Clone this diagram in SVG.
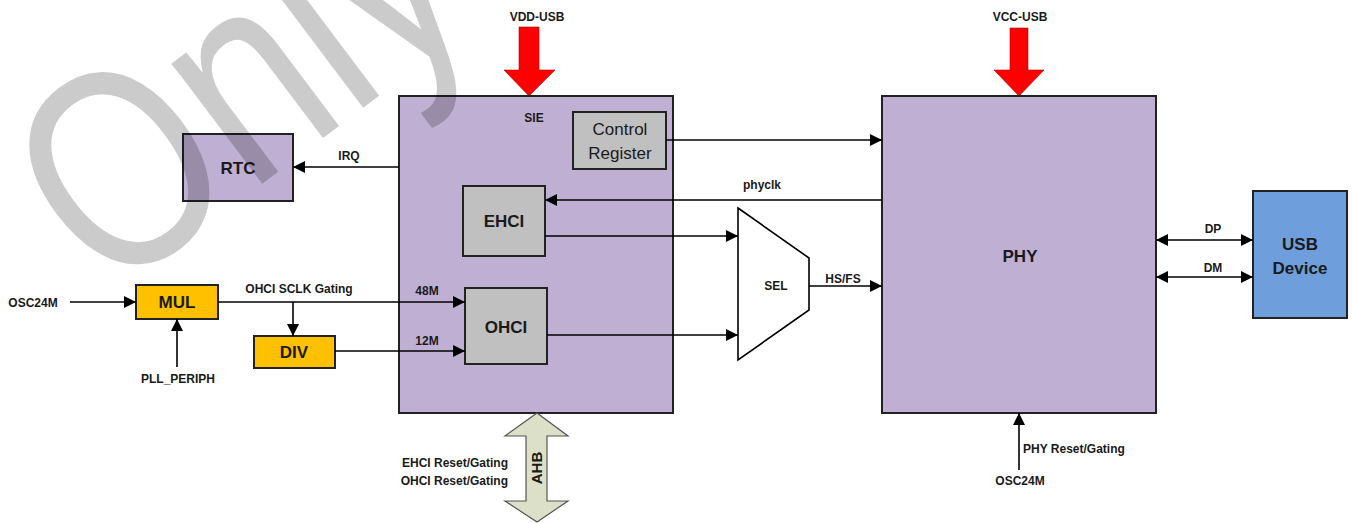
<svg xmlns="http://www.w3.org/2000/svg" width="1352" height="523" viewBox="0 0 1352 523">
<defs>
<marker id="ah" markerUnits="userSpaceOnUse" markerWidth="12" markerHeight="12" refX="12" refY="6" orient="auto-start-reverse">
<path d="M0,0 L12,6 L0,12 z" fill="#000"/>
</marker>
<style>
.box{stroke:#222;stroke-width:2}
.sie{fill:#bfb0d3}
.grey{fill:#c0c0c0}
.org{fill:#ffc000}
.blue{fill:#6e9edb}
.ln{stroke:#000;stroke-width:1.6;fill:none}
.arr{marker-end:url(#ah)}
.dbl{marker-start:url(#ah);marker-end:url(#ah)}
text{font-family:"Liberation Sans",Arial,sans-serif;fill:#1a1a1a}
.s{font-size:12px;font-weight:bold}
.b{font-size:17px;font-weight:bold;text-anchor:middle}
.c{text-anchor:middle}
.red{fill:#ff0000;stroke:#b00000;stroke-width:0.6}
</style>
</defs>
<rect width="1352" height="523" fill="#fff"/>

<g id="vdd">
<polygon class="red" points="519,27 539,27 539,70 555,70 529,96 504,70 519,70"/>
<text class="s c" x="537" y="21">VDD-USB</text>
</g>
<g id="vcc">
<polygon class="red" points="1010,28 1028,28 1028,70 1044,70 1019,96 994,70 1010,70"/>
<text class="s c" x="1020" y="21">VCC-USB</text>
</g>

<g id="sie">
<rect class="box sie" x="399" y="96" width="274" height="317"/>
<text class="s c" x="534" y="122">SIE</text>
</g>
<g id="ctrl">
<rect class="box grey" x="573" y="112" width="93" height="57"/>
<text class="c" x="620" y="135" font-size="17">Control</text>
<text class="c" x="620" y="159" font-size="17">Register</text>
</g>
<g id="ehci">
<rect class="box grey" x="463" y="186" width="82" height="70"/>
<text class="b" x="504" y="227">EHCI</text>
</g>
<g id="ohci">
<rect class="box grey" x="465" y="288" width="82" height="76"/>
<text class="b" x="506" y="333">OHCI</text>
</g>
<g id="rtc">
<rect class="box sie" x="183" y="134" width="110" height="67"/>
<text class="b" x="238" y="174">RTC</text>
</g>
<g id="mul">
<rect class="box org" x="136" y="285" width="82" height="34"/>
<text class="b" x="177" y="308">MUL</text>
</g>
<g id="div">
<rect class="box org" x="254" y="336" width="81" height="32"/>
<text class="b" x="294" y="358">DIV</text>
</g>
<g id="sel">
<polygon points="738,208 809,258 809,310 738,360" fill="#fff" stroke="#000" stroke-width="1.6"/>
<text class="s c" x="776" y="290">SEL</text>
</g>
<g id="phy">
<rect class="box sie" x="882" y="96" width="274" height="317"/>
<text class="b" x="1020" y="262">PHY</text>
</g>
<g id="usb">
<rect class="box blue" x="1253" y="191" width="94" height="127"/>
<text class="b" x="1300" y="250">USB</text>
<text class="b" x="1300" y="274">Device</text>
</g>
<g id="ahb">
<polygon points="537,413 568,436 547,436 547,501 568,501 537,522 505,501 526,501 526,436 505,436" fill="#dde0c8" stroke="#555" stroke-width="1.2"/>
<text class="c" transform="translate(542,468) rotate(-90)" font-size="15" font-weight="bold">AHB</text>
<text class="s" x="508" y="467" text-anchor="end">EHCI Reset/Gating</text>
<text class="s" x="508" y="485" text-anchor="end">OHCI Reset/Gating</text>
</g>

<g id="connectors">
<line class="ln arr" x1="399" y1="167" x2="293" y2="167"/>
<text class="s c" x="349" y="160">IRQ</text>
<line class="ln arr" x1="666" y1="140" x2="882" y2="140"/>
<line class="ln arr" x1="882" y1="200" x2="545" y2="200"/>
<text class="s c" x="762" y="189">phyclk</text>
<line class="ln arr" x1="545" y1="236" x2="738" y2="236"/>
<line class="ln arr" x1="547" y1="335" x2="738" y2="335"/>
<line class="ln arr" x1="809" y1="286" x2="882" y2="286"/>
<text class="s c" x="843" y="283">HS/FS</text>
<line class="ln arr" x1="70" y1="302" x2="136" y2="302"/>
<text class="s c" x="33" y="307">OSC24M</text>
<line class="ln arr" x1="177" y1="367" x2="177" y2="319"/>
<text class="s c" x="178" y="383">PLL_PERIPH</text>
<line class="ln arr" x1="218" y1="302" x2="465" y2="302"/>
<text class="s c" x="299" y="293">OHCI SCLK Gating</text>
<text class="s c" x="427" y="295">48M</text>
<line class="ln arr" x1="293" y1="302" x2="293" y2="336"/>
<line class="ln arr" x1="335" y1="351" x2="465" y2="351"/>
<text class="s c" x="427" y="345">12M</text>
<line class="ln dbl" x1="1156" y1="240" x2="1253" y2="240"/>
<text class="s c" x="1213" y="233">DP</text>
<line class="ln dbl" x1="1156" y1="277" x2="1253" y2="277"/>
<text class="s c" x="1213" y="272">DM</text>
<line class="ln arr" x1="1019" y1="470" x2="1019" y2="413"/>
<text class="s" x="1023" y="453">PHY Reset/Gating</text>
<text class="s c" x="1020" y="485">OSC24M</text>
</g>

<g id="watermark" opacity="0.2">
<text transform="translate(108,300) rotate(-37) scale(0.8,1)" font-size="285" style="fill:#000">Only</text>
</g>
</svg>
